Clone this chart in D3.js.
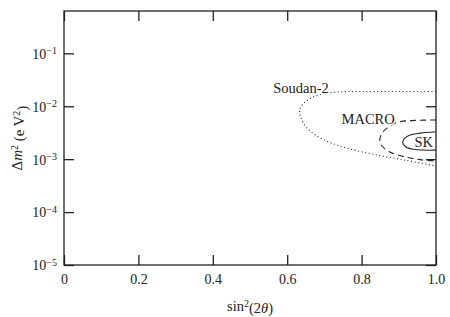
<!DOCTYPE html>
<html>
<head>
<meta charset="utf-8">
<script src="https://cdn.jsdelivr.net/npm/d3@7"></script>
<style>
  body { margin: 0; background: #fff; }
  text { font-family: "Liberation Serif", "DejaVu Serif", serif; fill: #222; }
</style>
</head>
<body>
<div id="chart"></div>
<script>
const width = 450;
const height = 317;
const margin = {top: 11, right: 14, bottom: 52, left: 64};

// allowed regions (sin^2 2theta, dm^2 in eV^2)
const soudanSin2 = [1.0, 0.90, 0.80, 0.73, 0.683, 0.651, 0.634, 0.637, 0.656, 0.694, 0.75, 0.828, 0.917, 1.0];
const soudanDm2 = [0.019, 0.019, 0.019, 0.0185, 0.0163, 0.0125, 0.0089, 0.006, 0.0037, 0.0024, 0.0017, 0.00125, 0.00096, 0.00074];

const macroSin2 = [1.0, 0.944, 0.898, 0.871, 0.855, 0.849, 0.855, 0.876, 0.917, 0.957, 1.0];
const macroDm2 = [0.0055, 0.0054, 0.005, 0.004, 0.0031, 0.0023, 0.00177, 0.00136, 0.0011, 0.00098, 0.00092];

const skSin2 = [1.0, 0.957, 0.93, 0.914, 0.911, 0.919, 0.944, 1.0];
const skDm2 = [0.0033, 0.0031, 0.00285, 0.0024, 0.002, 0.0017, 0.00152, 0.00148];

const labelNames = ["Soudan-2", "MACRO", "SK"];
const labelSin2 = [0.712, 0.889, 0.992];
const labelDm2 = [0.0178, 0.0046, 0.0017];

const xTicks = [0, 0.2, 0.4, 0.6, 0.8, 1.0];
const xTickLabels = ["0", "0.2", "0.4", "0.6", "0.8", "1.0"];
const yTicks = [1e-5, 1e-4, 1e-3, 1e-2, 1e-1];
const yTickExp = ["\u22125", "\u22124", "\u22123", "\u22122", "\u22121"];

const svg = d3.select("#chart").append("svg")
    .attr("width", width)
    .attr("height", height);

const x = d3.scaleLinear()
    .domain([0, 1])
    .range([margin.left, width - margin.right]);
const y = d3.scaleLog()
    .domain([1e-5, Math.pow(10, -0.2)])
    .range([height - margin.bottom, margin.top]);

svg.append("clipPath").attr("id", "plot-clip")
  .append("rect")
    .attr("x", margin.left)
    .attr("y", margin.top)
    .attr("width", width - margin.left - margin.right)
    .attr("height", height - margin.top - margin.bottom);

// contours
const line = d3.line()
    .x(d => x(d[0]))
    .y(d => y(d[1]))
    .curve(d3.curveCatmullRom.alpha(0.5));

const contours = [
  {sin2: soudanSin2, dm2: soudanDm2, dash: "1,2.6", width: 1.1},
  {sin2: macroSin2, dm2: macroDm2, dash: "6,4", width: 1.1},
  {sin2: skSin2, dm2: skDm2, dash: null, width: 1.1}
];

const plot = svg.append("g").attr("clip-path", "url(#plot-clip)");
contours.forEach(c => {
  plot.append("path")
      .attr("d", line(d3.zip(c.sin2, c.dm2)))
      .attr("fill", "none")
      .attr("stroke", "#222")
      .attr("stroke-width", c.width)
      .attr("stroke-dasharray", c.dash);
});

// labels, with a white halo so the curves stop at the text
labelNames.forEach((name, i) => {
  svg.append("text")
      .attr("x", x(labelSin2[i]))
      .attr("y", y(labelDm2[i]))
      .attr("text-anchor", "end")
      .attr("font-size", 14.5)
      .attr("stroke", "#fff")
      .attr("stroke-width", 3)
      .attr("paint-order", "stroke")
      .text(name);
});

// axes with inward ticks on all four sides
const tickLen = 10;
const xAxisB = d3.axisBottom(x).tickValues(xTicks).tickSizeInner(-tickLen).tickSizeOuter(0).tickPadding(9)
    .tickFormat((d, i) => xTickLabels[i]);
const xAxisT = d3.axisTop(x).tickValues(xTicks).tickSizeInner(-tickLen).tickSizeOuter(0).tickFormat("");
const yAxisL = d3.axisLeft(y).tickValues(yTicks).tickSizeInner(-tickLen).tickSizeOuter(0).tickPadding(8)
    .tickFormat("");
const yAxisR = d3.axisRight(y).tickValues(yTicks).tickSizeInner(-tickLen).tickSizeOuter(0).tickFormat("");

const gxB = svg.append("g").attr("transform", `translate(0,${height - margin.bottom})`).call(xAxisB);
const gxT = svg.append("g").attr("transform", `translate(0,${margin.top})`).call(xAxisT);
const gyL = svg.append("g").attr("transform", `translate(${margin.left},0)`).call(yAxisL);
const gyR = svg.append("g").attr("transform", `translate(${width - margin.right},0)`).call(yAxisR);

[gxB, gxT, gyL, gyR].forEach(g => {
  g.select(".domain").remove();
  g.selectAll(".tick line").attr("stroke", "#222").attr("stroke-width", 1.3);
});

gxB.selectAll(".tick text")
    .attr("font-family", "Liberation Serif, serif")
    .attr("font-size", 14)
    .attr("fill", "#222");

// y tick labels as 10 with superscript exponent
gyL.selectAll(".tick").each(function(d, i) {
  const t = d3.select(this).append("text")
      .attr("x", -7)
      .attr("dy", "0.35em")
      .attr("text-anchor", "end")
      .attr("font-family", "Liberation Serif, serif")
      .attr("font-size", 14);
  t.append("tspan").text("10");
  t.append("tspan").attr("dy", "-0.45em").attr("font-size", 10).text(yTickExp[i]);
});

// frame
svg.append("rect")
    .attr("x", margin.left)
    .attr("y", margin.top)
    .attr("width", width - margin.left - margin.right)
    .attr("height", height - margin.top - margin.bottom)
    .attr("fill", "none")
    .attr("stroke", "#222")
    .attr("stroke-width", 1.3);

// axis titles
const xTitle = svg.append("text")
    .attr("x", (margin.left + width - margin.right) / 2)
    .attr("y", 311)
    .attr("text-anchor", "middle")
    .attr("font-size", 14.5);
xTitle.append("tspan").text("sin");
xTitle.append("tspan").attr("dy", "-0.45em").attr("font-size", 10).text("2");
xTitle.append("tspan").attr("dy", "0.45em").text("(2");
xTitle.append("tspan").attr("font-style", "italic").text("\u03b8");
xTitle.append("tspan").text(")");

const yTitle = svg.append("text")
    .attr("transform", `translate(22,${(margin.top + height - margin.bottom) / 2}) rotate(-90)`)
    .attr("text-anchor", "middle")
    .attr("font-size", 15);
yTitle.append("tspan").text("\u0394");
yTitle.append("tspan").attr("font-style", "italic").text("m");
yTitle.append("tspan").attr("dy", "-0.45em").attr("font-size", 10).text("2");
yTitle.append("tspan").attr("dy", "0.45em").text(" (e\u2009V");
yTitle.append("tspan").attr("dy", "-0.45em").attr("font-size", 10).text("2");
yTitle.append("tspan").attr("dy", "0.45em").text(")");
</script>
</body>
</html>
